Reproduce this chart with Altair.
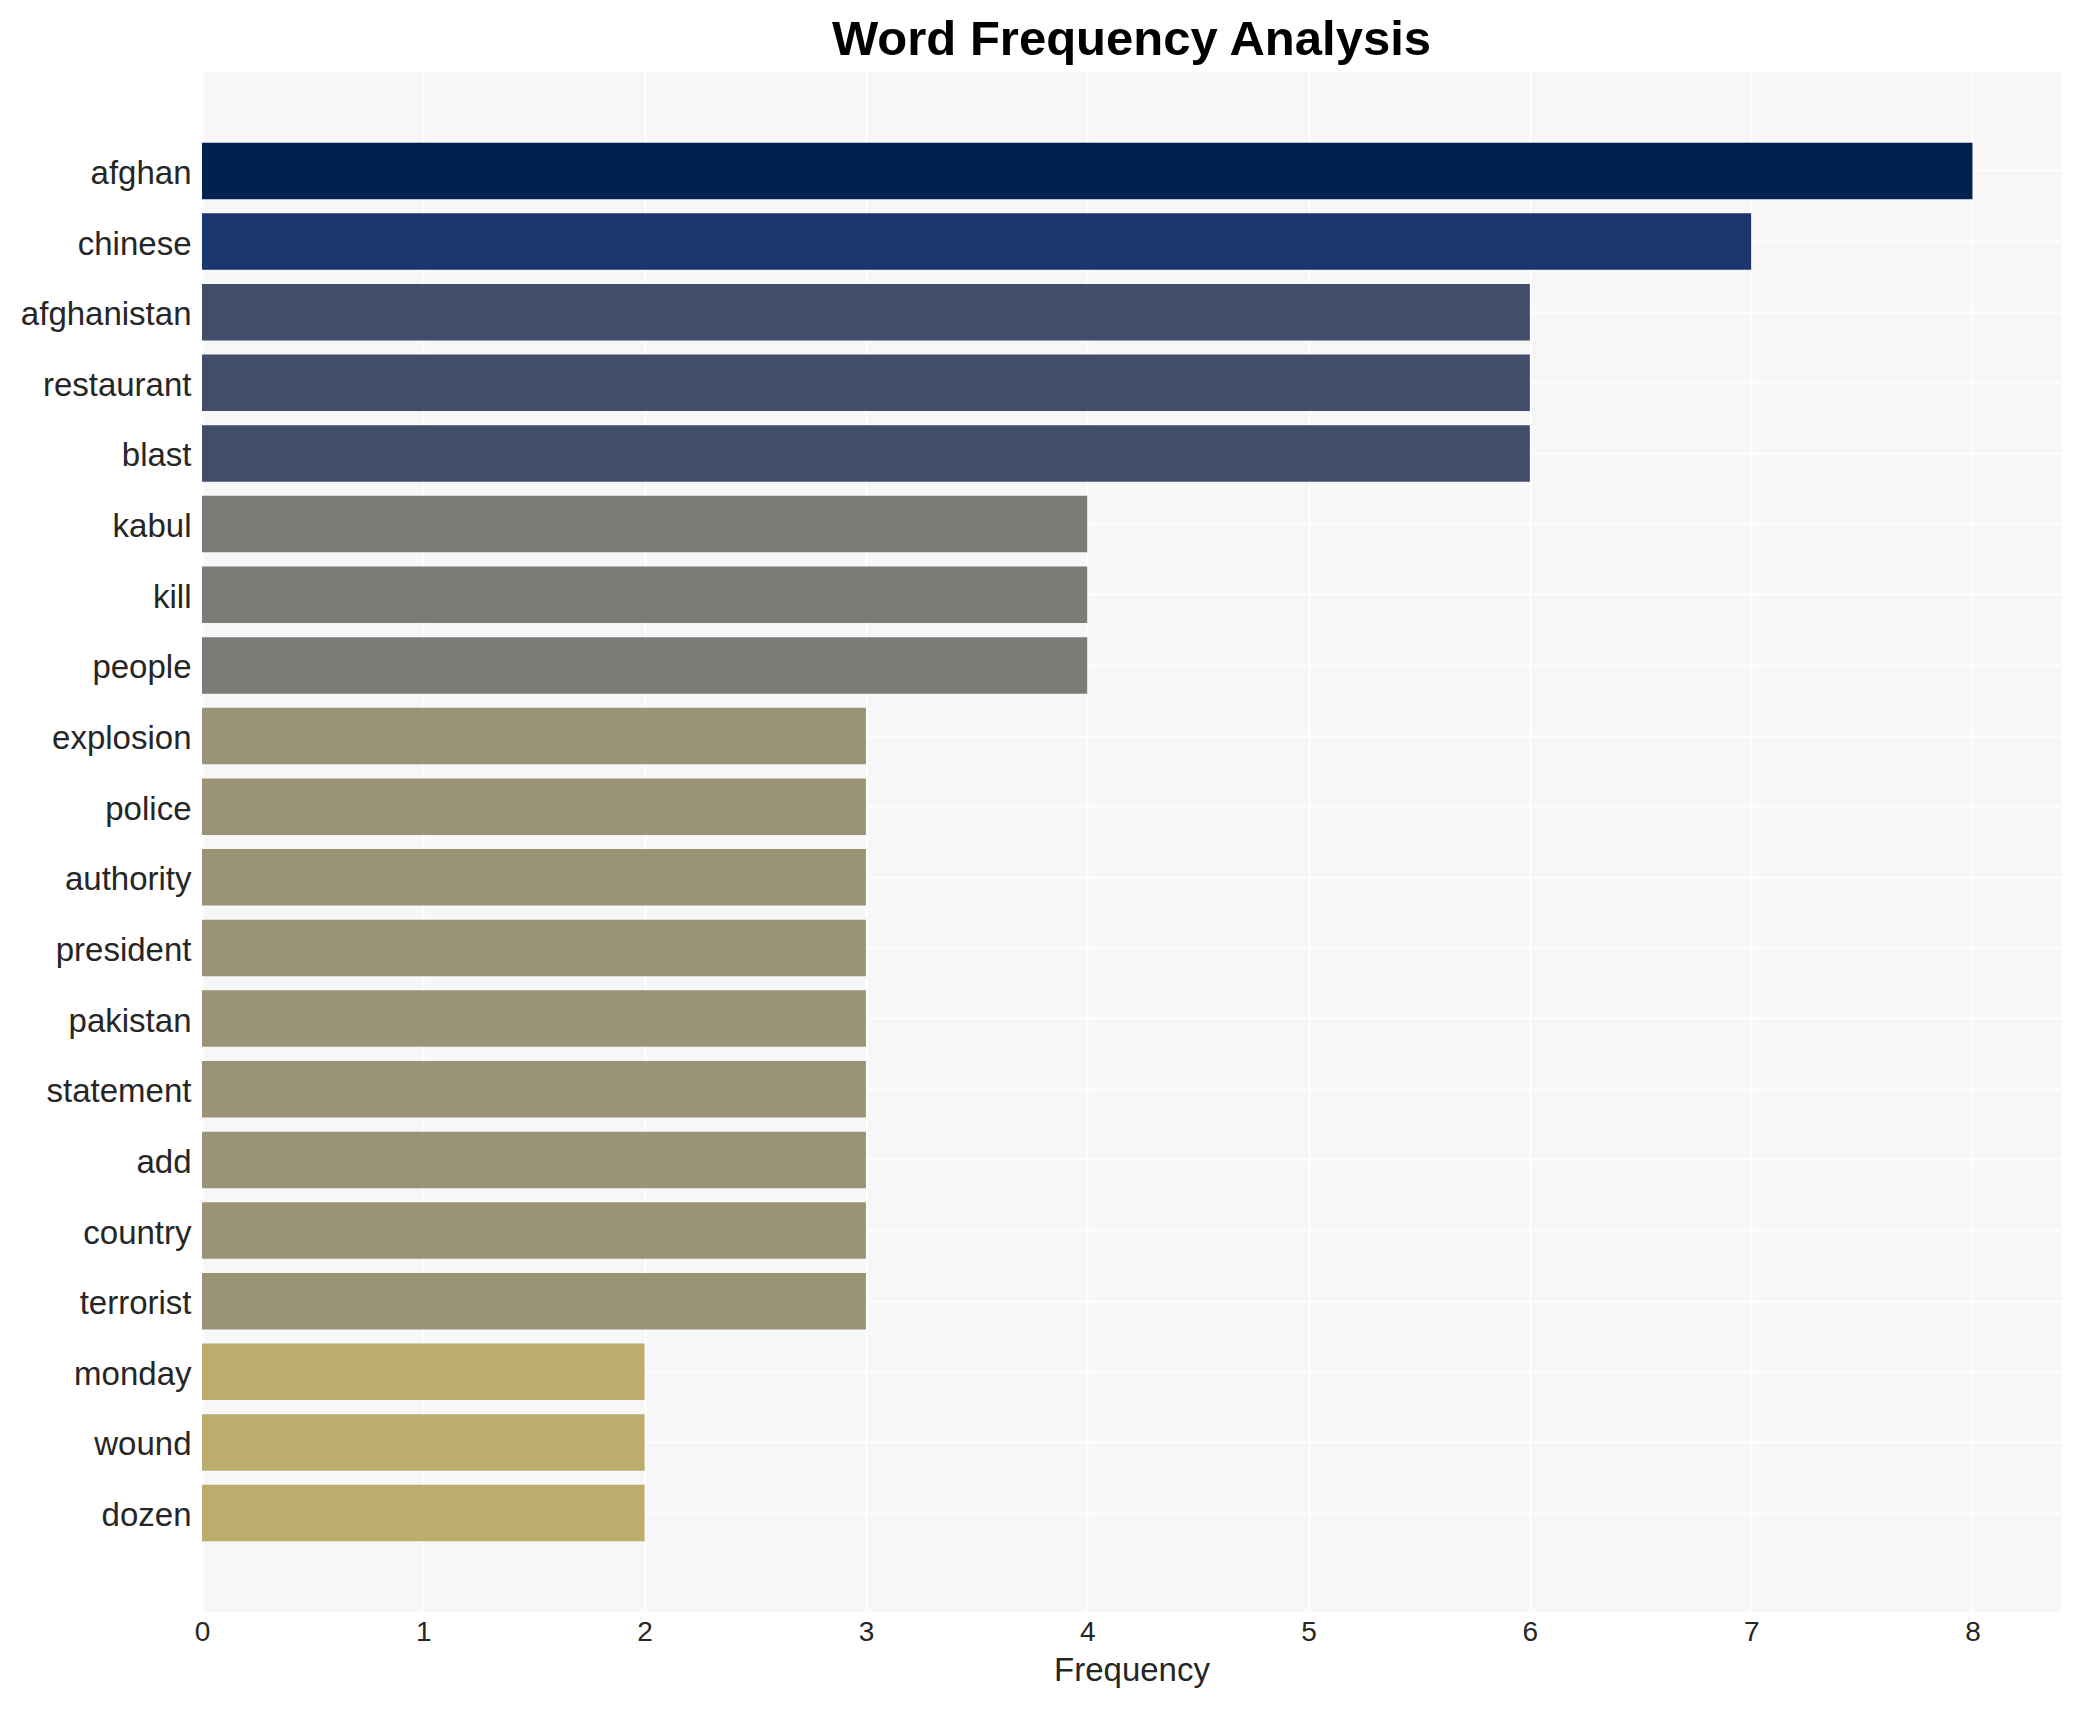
import altair as alt
import pandas as pd

words = ["afghan", "chinese", "afghanistan", "restaurant", "blast", "kabul", "kill",
         "people", "explosion", "police", "authority", "president", "pakistan",
         "statement", "add", "country", "terrorist", "monday", "wound", "dozen"]
freqs = [8, 7, 6, 6, 6, 4, 4, 4, 3, 3, 3, 3, 3, 3, 3, 3, 3, 2, 2, 2]

color_values = [8, 7, 6, 4, 3, 2]
color_range = ["#00224E", "#1A366C", "#414D6B", "#7C7B78", "#9B9474", "#BBAD6B"]
x_ticks = [0, 1, 2, 3, 4, 5, 6, 7, 8]

df = pd.DataFrame({"word": words, "Frequency": freqs})

chart = alt.Chart(df).mark_bar().encode(
    x=alt.X("Frequency:Q",
            scale=alt.Scale(domain=[0, 8.4], nice=False, zero=True),
            axis=alt.Axis(values=x_ticks, format="d", title="Frequency",
                          labelFontSize=28, titleFontSize=33, labelPadding=6,
                          titlePadding=8, grid=True, gridColor="white", gridWidth=2,
                          domain=False, ticks=False, labelColor="#262626",
                          labelFlush=False,
                          titleColor="#262626", titleFontWeight="normal")),
    y=alt.Y("word:N", sort=None,
            scale=alt.Scale(paddingInner=0.2, paddingOuter=1.0),
            axis=alt.Axis(title=None, labelFontSize=33, labelPadding=11,
                          labelOffset=3,
                          grid=True, gridColor="white", gridWidth=2, bandPosition=0.5,
                          domain=False, ticks=False, labelColor="#262626")),
    color=alt.Color("Frequency:O",
                    scale=alt.Scale(domain=color_values, range=color_range),
                    legend=None),
).properties(
    width=1859,
    height=1540,
    title=alt.TitleParams("Word Frequency Analysis", fontSize=49, fontWeight="bold",
                          color="black", anchor="middle", baseline="alphabetic",
                          offset=17, dy=49),
    padding={"left": 194, "top": 64, "right": 13, "bottom": 90},
    autosize=alt.AutoSizeParams(type="none"),
).configure(
    font="Liberation Sans",
).configure_view(
    fill="#F7F7F7", stroke=None,
)

chart.save("out.html", embed_options={"renderer": "svg", "actions": False})
